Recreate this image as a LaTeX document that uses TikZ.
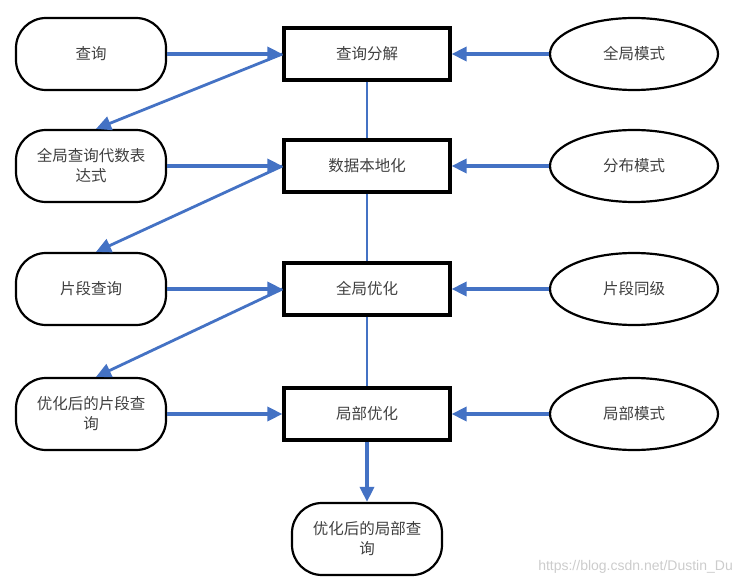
\documentclass[tikz,border=0pt]{standalone}
\usepackage{fontspec}
\setmainfont{Noto Sans CJK SC}
\newfontfamily\wmfont{Liberation Sans}
\usetikzlibrary{arrows.meta,shapes.geometric,positioning}
\definecolor{lineblue}{HTML}{4472C4}
\begin{document}
\begin{tikzpicture}[x=1pt,y=-1pt,
  every node/.style={font=\fontsize{15.5}{20}\selectfont, text=black!75, align=center, inner sep=0pt},
  stad/.style={draw=black, line width=2.2pt, rounded corners=30pt, minimum width=150pt, minimum height=72pt},
  procbox/.style={draw=black, line width=3.2pt, minimum width=166pt, minimum height=52pt},
  ell/.style={draw=black, line width=2.2pt, ellipse, minimum width=168pt, minimum height=72pt},
  flow/.style={draw=lineblue, line width=3.4pt, -{Triangle[length=15pt,width=14pt]}},
  link/.style={draw=lineblue, line width=1.8pt}
]
\useasboundingbox (0,0) rectangle (741,585);
% left stadiums
\node[stad] (q) at (91,54) {查询};
\node[stad] (ga) at (91,166) {全局查询代数表\\达式};
\node[stad] (fq) at (91,289) {片段查询};
\node[stad] (ofq) at (91,414) {优化后的片段查\\询};
% process boxes
\node[procbox] (dec) at (367,54) {查询分解};
\node[procbox] (loc) at (367,166) {数据本地化};
\node[procbox] (gopt) at (367,289) {全局优化};
\node[procbox] (lopt) at (367,414) {局部优化};
% right ellipses
\node[ell] (gs) at (634,54) {全局模式};
\node[ell] (ds) at (634,166) {分布模式};
\node[ell] (fs) at (634,289) {片段同级};
\node[ell] (ls) at (634,414) {局部模式};
% bottom
\node[stad] (olq) at (367,539) {优化后的局部查\\询};
% vertical links
\draw[link] (dec) -- (loc);
\draw[link] (loc) -- (gopt);
\draw[link] (gopt) -- (lopt);
\draw[flow] (lopt) -- (olq);
% horizontal flows
\draw[flow] (q.east) -- (dec.west);
\draw[flow] (ga.east) -- (loc.west);
\draw[flow] (fq.east) -- (gopt.west);
\draw[flow] (ofq.east) -- (lopt.west);
\draw[flow] (gs.west) -- (dec.east);
\draw[flow] (ds.west) -- (loc.east);
\draw[flow] (fs.west) -- (gopt.east);
\draw[flow] (ls.west) -- (lopt.east);
% diagonal flows
\draw[flow, line width=2.8pt] (dec.west) -- ([xshift=5pt]ga.north);
\draw[flow, line width=2.8pt] (loc.west) -- ([xshift=5pt]fq.north);
\draw[flow, line width=2.8pt] (gopt.west) -- ([xshift=5pt]ofq.north);
% watermark
\node[font=\wmfont\fontsize{14}{16}\selectfont, text=black!20, anchor=east] (wm) at (733,567) {https://blog.csdn.net/Dustin\_Du};
\end{tikzpicture}
\end{document}
